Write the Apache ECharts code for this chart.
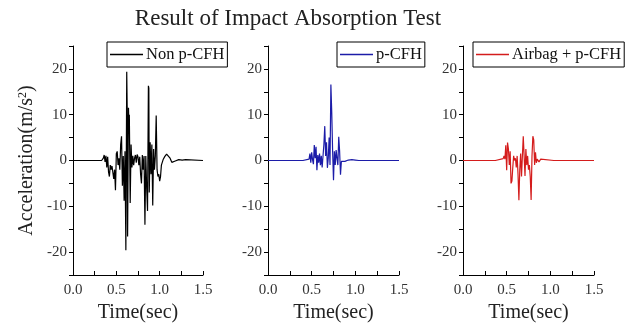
<!DOCTYPE html>
<html>
<head>
<meta charset="utf-8">
<script src="https://cdn.jsdelivr.net/npm/echarts@6/dist/echarts.min.js"></script>
<style>html,body{margin:0;padding:0;background:#fff}#c{width:634px;height:331px}</style>
</head>
<body>
<div id="c"></div>
<script>
// ---- data ----
var seriesNames = ['Non p-CFH', 'p-CFH', 'Airbag + p-CFH'];
var xTickLabels = ['0.0', '0.5', '1.0', '1.5'];
var yTickLabels = ['-20', '-10', '0', '10', '20'];

var tNon = [0,0.13,0.14,0.15,0.33,0.35,0.36,0.37,0.38,0.39,0.40,0.41,0.42,0.43,0.44,0.45,0.46,0.47,0.48,0.49,0.50,0.51,0.52,0.53,0.54,0.55,0.56,0.57,0.58,0.59,0.60,0.61,0.62,0.625,0.63,0.64,0.645,0.65,0.66,0.67,0.68,0.69,0.70,0.71,0.72,0.73,0.74,0.75,0.76,0.77,0.78,0.79,0.80,0.81,0.82,0.83,0.84,0.85,0.86,0.87,0.875,0.88,0.89,0.90,0.91,0.92,0.93,0.94,0.95,0.96,0.965,0.97,0.98,0.99,1.00,1.01,1.02,1.04,1.06,1.08,1.10,1.12,1.14,1.16,1.18,1.20,1.22,1.24,1.26,1.28,1.30,1.32,1.5];
var aNon = [0,0,0.3,0,0,0.5,1.2,-0.3,1.0,-1.5,0.8,-2.5,-3.5,-1.0,-2.0,-1.2,-1.5,-4.0,-2.0,-6.5,1.5,2.0,-1.0,0.5,-2.0,3.5,5.3,-5.5,1.0,-8.8,2.0,-19.6,19.4,11.8,-16.6,11.5,8.0,10.0,-9.3,3.5,-1.5,1.0,-1.0,0.5,1.2,-0.5,1.3,0.8,-1.0,0.8,-3.0,-5.0,1.2,-2.0,1.0,-14.0,1.0,-6.0,-11.0,16.3,15.8,-7.0,4.0,-3.0,3.5,-9.8,2.5,-2.0,1.0,9.8,9.5,-2.0,-3.5,-3.0,-4.5,-3.5,-1.0,0.2,0.9,1.4,1.3,0.5,-0.4,-0.6,-0.1,-0.3,0.2,-0.1,0.1,0,0.2,0,0];

var tPC = [0,0.40,0.41,0.47,0.48,0.49,0.50,0.51,0.52,0.53,0.54,0.55,0.56,0.57,0.58,0.59,0.60,0.61,0.62,0.63,0.64,0.65,0.66,0.67,0.68,0.69,0.70,0.71,0.72,0.73,0.74,0.75,0.76,0.77,0.78,0.79,0.80,0.81,0.82,0.83,0.84,0.86,0.88,0.90,0.92,0.94,0.96,0.98,1.00,1.02,1.04,1.06,1.08,1.5];
var aPC = [0,0,0.3,0.3,1.5,-0.5,1.8,0.2,-0.8,3.4,0.5,3.0,-2.1,1.2,-0.5,1.5,-1.0,1.0,-1.5,-1.2,3.5,7.5,1.0,4.0,-1.6,0.5,5.0,-1.0,16.6,10.4,2.0,-4.3,2.0,-1.0,2.3,0.5,-1.0,5.2,2.0,-3.1,-0.2,-0.6,-0.2,-0.5,0.1,-0.3,0.2,-0.1,0.1,0.2,0,0.3,0,0];

var tAir = [0,0.37,0.38,0.46,0.47,0.48,0.49,0.50,0.51,0.52,0.53,0.54,0.55,0.56,0.57,0.58,0.59,0.60,0.61,0.62,0.63,0.64,0.65,0.66,0.67,0.68,0.69,0.70,0.71,0.72,0.73,0.74,0.75,0.76,0.77,0.78,0.79,0.80,0.81,0.82,0.83,0.84,0.85,0.87,0.89,0.91,1.04,1.05,1.06,1.5];
var aAir = [0,0,0.4,0.4,1.0,0.3,3.3,-2.1,3.9,2.5,-1.0,2.0,-5.0,-4.5,-1.5,1.0,0,0.5,-1.5,1.0,-3.0,-8.7,-2.0,1.5,-3.5,1.0,5.3,5.0,-3.4,2.5,-1.0,1.0,-2.0,-1.0,-3.5,-8.6,1.0,5.3,4.5,-1.0,1.8,-0.5,0.3,-0.3,0.3,0,0,0.2,0,0];

var colors = ['#000000', '#1c1ca8', '#d41c1c'];
var times = [tNon, tPC, tAir];
var vals = [aNon, aPC, aAir];

// ---- layout ----
var FONT = 'Liberation Serif';
var gridLefts = [73, 268, 463];
var gridWidths = [130, 131, 131];
var legendLefts = [107, 337, 473];

var grids = [], xAxes = [], yAxes = [], series = [], legends = [];
for (var i = 0; i < 3; i++) {
  grids.push({left: gridLefts[i], top: 46, width: gridWidths[i], height: 229, containLabel: false});
  xAxes.push({
    type: 'value', gridIndex: i, min: 0, max: 1.5, interval: 0.25,
    axisLine: {show: true, onZero: false, lineStyle: {color: '#000', width: 1}},
    axisTick: {show: true, inside: true, length: 4, lineStyle: {color: '#000'}},
    splitLine: {show: false},
    axisLabel: {
      margin: 8, color: '#333', fontFamily: FONT, fontSize: 15,
      formatter: function (v) {
        var s = v.toFixed(1);
        return xTickLabels.indexOf(s) >= 0 && Math.abs(v * 2 - Math.round(v * 2)) < 1e-6 ? s : '';
      }
    },
    name: 'Time(sec)', nameLocation: 'middle', nameGap: 27,
    nameTextStyle: {fontFamily: FONT, fontSize: 20, color: '#222'}
  });
  var ya = {
    type: 'value', gridIndex: i, min: -25, max: 25, interval: 5,
    axisLine: {show: true, onZero: false, lineStyle: {color: '#000', width: 1}},
    axisTick: {show: true, inside: false, length: 4, lineStyle: {color: '#000'}},
    splitLine: {show: false},
    axisLabel: {
      margin: 6, color: '#333', fontFamily: FONT, fontSize: 15,
      formatter: function (v) {
        var s = String(Math.round(v));
        return yTickLabels.indexOf(s) >= 0 ? s : '';
      }
    }
  };
  if (i === 0) {
    ya.name = 'Acceleration(m/s{sup|2})';
    ya.nameLocation = 'middle';
    ya.nameGap = 36;
    ya.nameTextStyle = {fontFamily: FONT, fontSize: 20, color: '#222',
      rich: {sup: {fontFamily: FONT, fontSize: 12, color: '#222', verticalAlign: 'top', padding: [0, 0, 8, 0]}}};
  }
  yAxes.push(ya);
  series.push({
    name: seriesNames[i], type: 'line', xAxisIndex: i, yAxisIndex: i,
    data: times[i].map(function (t, k) { return [t, vals[i][k]]; }),
    symbol: 'none', showSymbol: false, sampling: null,
    lineStyle: {color: colors[i], width: 1.2}, itemStyle: {color: colors[i]},
    animation: false
  });
  legends.push({
    data: [seriesNames[i]], left: legendLefts[i], top: 42,
    orient: 'horizontal', icon: 'rect', itemWidth: 33, itemHeight: 1.3, itemGap: 0,
    backgroundColor: '#fff', borderColor: '#000', borderWidth: 1,
    padding: [4, 3, 4, 3], selectedMode: false,
    textStyle: {fontFamily: FONT, fontSize: 16.5, color: '#111', padding: [0, 0, 0, -2]}
  });
}

var chart = echarts.init(document.getElementById('c'), null, {renderer: 'canvas'});
chart.setOption({
  animation: false,
  backgroundColor: '#fff',
  title: {
    text: 'Result of Impact Absorption Test', left: 283, top: 2, textAlign: 'center',
    textStyle: {fontFamily: FONT, fontSize: 23, fontWeight: 'normal', color: '#222'}
  },
  legend: legends,
  grid: grids,
  xAxis: xAxes,
  yAxis: yAxes,
  series: series
});
</script>
</body>
</html>
